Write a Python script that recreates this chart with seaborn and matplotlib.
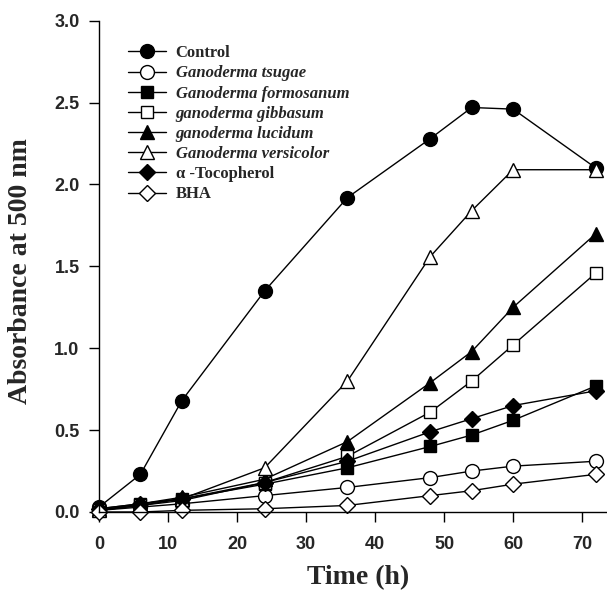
import matplotlib
matplotlib.use("Agg")
import matplotlib.pyplot as plt
import seaborn as sns
import numpy as np

time_h = [0, 6, 12, 24, 36, 48, 54, 60, 72]

control     = [0.03, 0.23, 0.68, 1.35, 1.92, 2.28, 2.47, 2.46, 2.10]
tsugae      = [0.01, 0.03, 0.05, 0.10, 0.15, 0.21, 0.25, 0.28, 0.31]
formosanum  = [0.01, 0.05, 0.08, 0.17, 0.27, 0.40, 0.47, 0.56, 0.77]
gibbasum    = [0.01, 0.04, 0.07, 0.18, 0.34, 0.61, 0.80, 1.02, 1.46]
lucidum     = [0.02, 0.05, 0.09, 0.20, 0.43, 0.79, 0.98, 1.25, 1.70]
versicolor  = [0.01, 0.04, 0.08, 0.27, 0.80, 1.56, 1.84, 2.09, 2.09]
tocopherol  = [0.02, 0.05, 0.08, 0.18, 0.31, 0.49, 0.57, 0.65, 0.74]
bha         = [0.00, 0.00, 0.01, 0.02, 0.04, 0.10, 0.13, 0.17, 0.23]

labels = ["Control", "Ganoderma tsugae", "Ganoderma formosanum", "ganoderma gibbasum",
          "ganoderma lucidum", "Ganoderma versicolor", "\u03b1 -Tocopherol", "BHA"]
series = [control, tsugae, formosanum, gibbasum, lucidum, versicolor, tocopherol, bha]
markers = ["o", "o", "s", "s", "^", "^", "D", "D"]
faces = ["black", "white", "black", "white", "black", "white", "black", "white"]
italic = [False, True, True, True, True, True, False, False]
msizes = [10, 10, 9, 9, 10, 10, 8, 8]

sns.set_style("white")
plt.rcParams["font.family"] = ["Liberation Serif", "DejaVu Serif"]

fig = plt.figure(figsize=(6.07, 5.93), dpi=100)
ax = fig.add_axes([99/607, 1 - 512/593, 508/607, (512 - 20.7)/593])

for lab, vals, mk, fc, ms in zip(labels, series, markers, faces, msizes):
    sns.lineplot(x=time_h, y=vals, ax=ax, label=lab, color="black", linewidth=1.0,
                 marker=mk, markersize=ms, markerfacecolor=fc,
                 markeredgecolor="black", markeredgewidth=1.0, clip_on=False)

ax.set_xlim(0, 73.6)
ax.set_ylim(0, 3.0)
ax.set_xticks(np.arange(0, 71, 10))
ax.set_yticks(np.arange(0, 3.01, 0.5))
ax.set_yticklabels([f"{v:.1f}" for v in np.arange(0, 3.01, 0.5)])

for s in ["top", "right"]:
    ax.spines[s].set_visible(False)
for s in ["left", "bottom"]:
    ax.spines[s].set_color("black")
    ax.spines[s].set_linewidth(1.0)

ax.tick_params(axis="both", direction="out", length=7, width=1.0, color="black",
               left=True, bottom=True)
ax.tick_params(axis="y", pad=7)
ax.tick_params(axis="x", pad=10)
for t in ax.get_xticklabels() + ax.get_yticklabels():
    t.set_fontfamily(["Liberation Sans", "DejaVu Sans"])
    t.set_fontweight("bold")
    t.set_fontsize(13)

ax.set_xlabel("Time (h)", fontsize=20, fontweight="bold")
ax.set_ylabel("Absorbance at 500 nm", fontsize=20, fontweight="bold")
ax.xaxis.set_label_coords(0.51, -0.108)
ax.yaxis.set_label_coords(-0.13, 0.49)

leg = ax.legend(loc="upper left", bbox_to_anchor=(29/508, 0.950), frameon=False,
                fontsize=12, handlelength=2.3, handletextpad=0.55, labelspacing=0.25,
                borderpad=0, borderaxespad=0)
for t, it in zip(leg.get_texts(), italic):
    t.set_fontweight("bold")
    if it:
        t.set_fontstyle("italic")

fig.savefig("out.png", dpi=100)
